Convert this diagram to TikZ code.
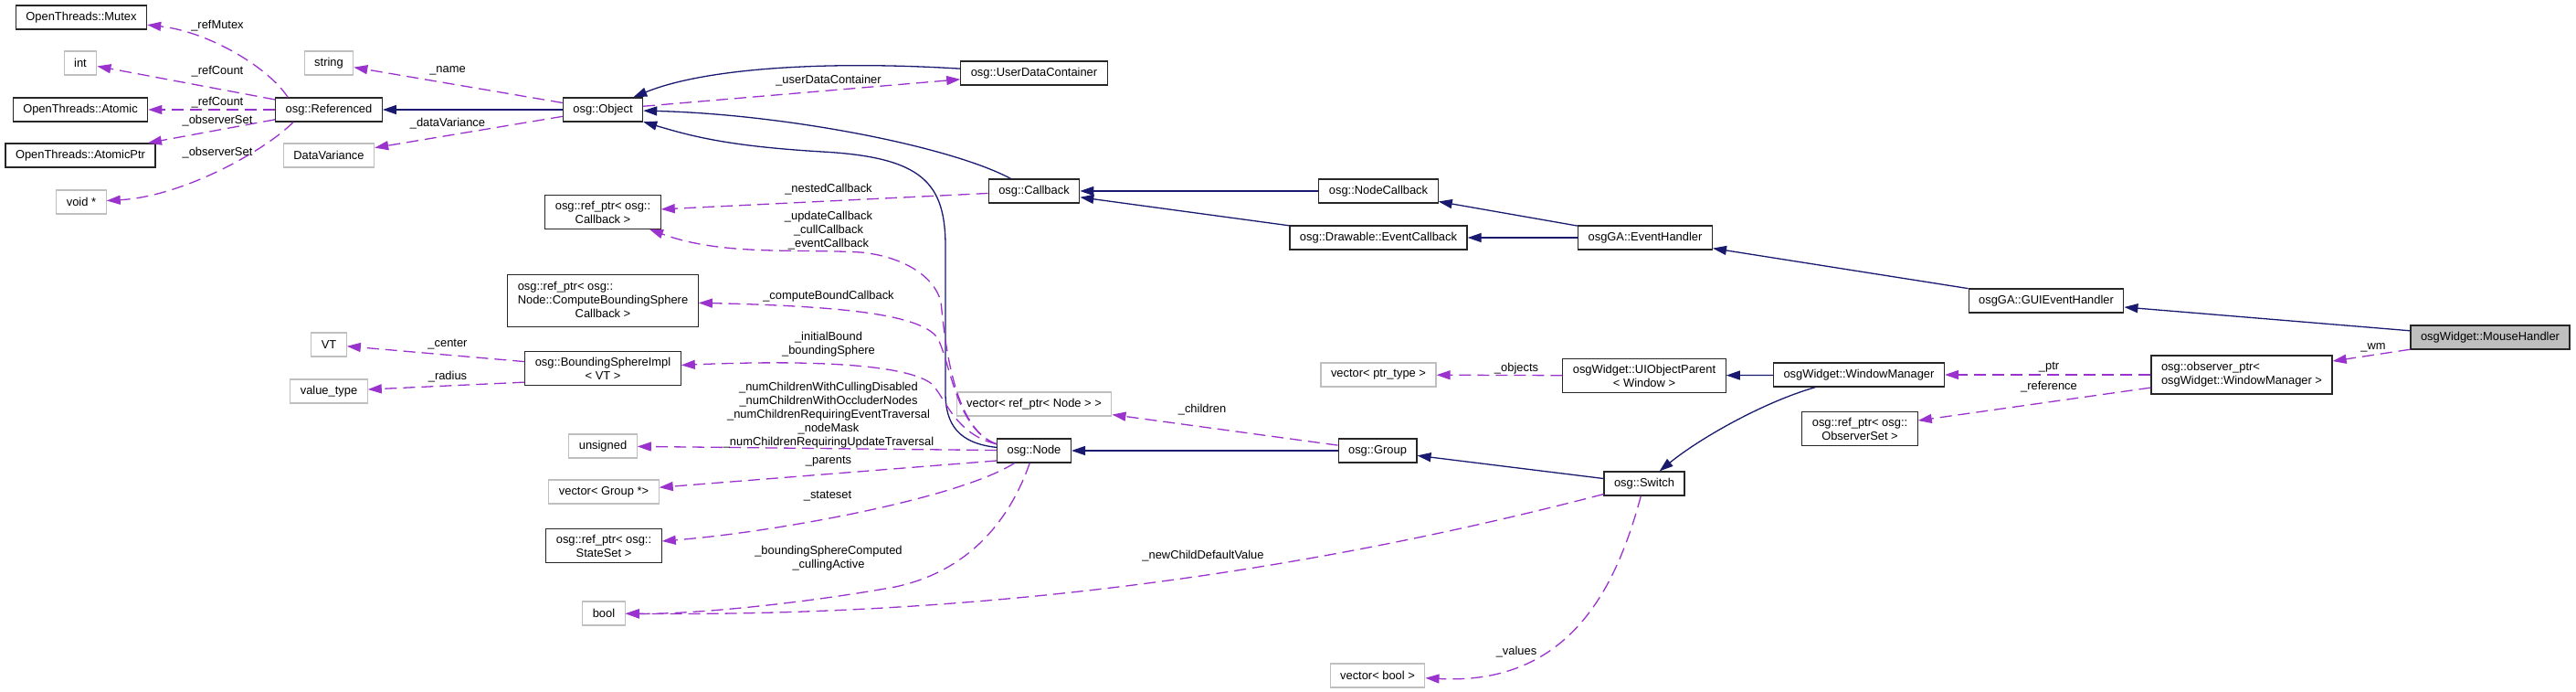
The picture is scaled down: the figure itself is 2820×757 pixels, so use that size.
\documentclass[tikz,border=0pt]{standalone}
\usepackage{fontspec}
\setmainfont{Liberation Sans}
\usetikzlibrary{arrows.meta}
\definecolor{navy}{HTML}{191970}
\definecolor{orchid}{HTML}{9A32CD}
\definecolor{boxgray}{HTML}{BFBFBF}

\begin{document}
\begin{tikzpicture}[x=1pt,y=-1pt,
    font=\fontsize{12.9}{15}\selectfont,
    cls/.style={draw=black!85,line width=1.2pt,fill=white,inner xsep=11pt,
      inner ysep=6pt,minimum height=26pt,align=center},
    ext/.style={cls,draw=boxgray},
    focus/.style={cls,fill=boxgray},
    inherit/.style={draw=navy,line width=1.3pt,-{Triangle[length=15pt,width=10pt]}},
    member/.style={draw=orchid,line width=1.3pt,dash pattern=on 13pt off 7pt,
      -{Triangle[length=15pt,width=10pt]}},
    lbl/.style={inner sep=0pt,align=center}]
    \fill[white] (0,0) rectangle (2820,757);
    \useasboundingbox (0,0) rectangle (2820,757);

    % classes, left to right
    \node[cls] (mutex) at (89,19) {OpenThreads::Mutex};
    \node[ext] (int) at (88,69) {int};
    \node[cls] (atomic) at (88,120) {OpenThreads::Atomic};
    \node[cls] (atomicptr) at (88,170) {OpenThreads::AtomicPtr};
    \node[ext] (voidp) at (89,221) {void *};
    \node[ext] (string) at (360,69) {string};
    \node[cls] (ref) at (360,120) {osg::Referenced};
    \node[ext] (datavar) at (360,170) {DataVariance};
    \node[ext] (vt) at (360,377) {VT};
    \node[ext] (valtype) at (360,428) {value\_type};
    \node[cls] (obj) at (660,120) {osg::Object};
    \node[cls] (refcb) at (660,232) {osg::ref\_ptr< osg::\\Callback >};
    \node[cls] (cbs) at (660,329) {\begin{tabular}{@{}l@{}}osg::ref\_ptr< osg::\\
      Node::ComputeBoundingSphere\\\multicolumn{1}{@{}c@{}}{Callback >}\end{tabular}};
    \node[cls] (bsi) at (660,403) {osg::BoundingSphereImpl\\< VT >};
    \node[ext] (uns) at (660,488) {unsigned};
    \node[ext] (vecgrp) at (661,538) {vector< Group *>};
    \node[cls] (ss) at (661,597) {osg::ref\_ptr< osg::\\StateSet >};
    \node[ext] (bool) at (661,671) {bool};
    \node[cls] (udc) at (1132,80) {osg::UserDataContainer};
    \node[cls] (cb) at (1132,209) {osg::Callback};
    \node[ext] (vecnode) at (1132,442) {vector< ref\_ptr< Node > >};
    \node[cls] (node) at (1132,493) {osg::Node};
    \node[cls] (ncb) at (1509,209) {osg::NodeCallback};
    \node[cls] (ecb) at (1509,260) {osg::Drawable::EventCallback};
    \node[ext] (vecptr) at (1509,410) {vector< ptr\_type >};
    \node[cls] (grp) at (1508,493) {osg::Group};
    \node[ext] (vecbool) at (1508,739) {vector< bool >};
    \node[cls] (eh) at (1801,260) {osgGA::EventHandler};
    \node[cls] (uiop) at (1800,411) {osgWidget::UIObjectParent\\< Window >};
    \node[cls] (sw) at (1800,529) {osg::Switch};
    \node[cls] (wm) at (2035,410) {osgWidget::WindowManager};
    \node[cls] (obsset) at (2036,469) {osg::ref\_ptr< osg::\\ObserverSet >};
    \node[cls] (gui) at (2240,329) {osgGA::GUIEventHandler};
    \node[cls] (obsptr) at (2454,410) {\begin{tabular}{@{}l@{}}osg::observer\_ptr<\\
      \multicolumn{1}{@{}c@{}}{osgWidget::WindowManager >}\end{tabular}};
    \node[focus] (mouse) at (2726,369) {osgWidget::MouseHandler};

    % inheritance
    \draw[inherit] (obj) -- (ref);
    \draw[inherit] (udc) .. controls (900,66) and (770,75) .. (obj);
    \draw[inherit] (cb) .. controls (1040,160) and (860,125) .. (obj);
    \draw[inherit] (node.175) .. controls (1050,485) and (1035,465) .. (1035,430)
      -- (1035,270) .. controls (1035,200) and (1010,172) .. (900,166)
      .. controls (800,160) and (760,150) .. (obj);
    \draw[inherit] (ncb) -- (cb);
    \draw[inherit] (ecb) -- (cb);
    \draw[inherit] (eh) -- (ncb);
    \draw[inherit] (eh) -- (ecb);
    \draw[inherit] (gui) -- (eh);
    \draw[inherit] (mouse) -- (gui);
    \draw[inherit] (wm) -- (uiop);
    \draw[inherit] (wm) .. controls (1930,440) and (1860,480) .. (sw);
    \draw[inherit] (sw) -- (grp);
    \draw[inherit] (grp) -- (node);

    % members
    \draw[member] ([xshift=14pt]ref.north west) .. controls (295,75) and (230,35) .. (mutex);
    \draw[member] (ref) -- (int);
    \draw[member] (ref) -- (atomic);
    \draw[member] (ref) -- (atomicptr);
    \draw[member] ([xshift=20pt]ref.south west) .. controls (290,165) and (200,215) .. (voidp);
    \draw[member] (obj) -- (string);
    \draw[member] (obj) -- (datavar);
    \draw[member] (obj) -- (udc);
    \draw[member] (cb) -- (refcb);
    \draw[member] (node.170) .. controls (1045,470) and (1035,380) .. (1030,330)
      .. controls (1022,300) and (985,280) .. (942,276)
      .. controls (870,272) and (790,280) .. (refcb);
    \draw[member] (node.170) .. controls (1045,470) and (1040,390) .. (1025,368)
      .. controls (1005,345) and (930,335) .. (cbs);
    \draw[member] (node.170) .. controls (1045,475) and (1035,435) .. (1020,420)
      .. controls (995,400) and (900,393) .. (bsi);
    \draw[member] (node) -- (uns);
    \draw[member] (node.195) -- (vecgrp);
    \draw[member] (node) .. controls (1050,545) and (850,582) .. (ss);
    \draw[member] (node) .. controls (1105,570) and (1060,625) .. (980,642)
      .. controls (880,660) and (760,672) .. (bool);
    \draw[member] (sw) .. controls (1450,620) and (1100,675) .. (bool);
    \draw[member] (sw) .. controls (1770,640) and (1720,750) .. (vecbool);
    \draw[member] (grp) -- (vecnode);
    \draw[member] (uiop) -- (vecptr);
    \draw[member] (obsptr) -- (wm);
    \draw[member] (obsptr) -- (obsset);
    \draw[member] (mouse) -- (obsptr);
    \draw[member] (bsi) -- (vt);
    \draw[member] (bsi.190) -- (valtype);

    % member names
    \node[lbl] (lrefmutex) at (238,28) {\_refMutex};
    \node[lbl] (lrefcount) at (238,78) {\_refCount};
    \node[lbl] (lrefcountb) at (238,112) {\_refCount};
    \node[lbl] (lobserver) at (238,132) {\_observerSet};
    \node[lbl] (lobserverb) at (238,167) {\_observerSet};
    \node[lbl] (lname) at (490,77) {\_name};
    \node[lbl] (ldatavar) at (490,135) {\_dataVariance};
    \node[lbl] (lcenter) at (490,377) {\_center};
    \node[lbl] (lradius) at (490,412) {\_radius};
    \node[lbl] (ludc) at (907,88) {\_userDataContainer};
    \node[lbl] (lnested) at (907,207) {\_nestedCallback};
    \node[lbl] (lcallbacks) at (907,252) {\_updateCallback\\\_cullCallback\\\_eventCallback};
    \node[lbl] (lcompute) at (907,324) {\_computeBoundCallback};
    \node[lbl] (lbound) at (907,377) {\_initialBound\\\_boundingSphere};
    \node[lbl] (lnum) at (907,454) {\_numChildrenWithCullingDisabled\\\_numChildrenWithOccluderNodes\\
      \_numChildrenRequiringEventTraversal\\\_nodeMask\\\_numChildrenRequiringUpdateTraversal};
    \node[lbl] (lparents) at (907,505) {\_parents};
    \node[lbl] (lstateset) at (906,543) {\_stateset};
    \node[lbl] (lsphere) at (907,611) {\_boundingSphereComputed\\\_cullingActive};
    \node[lbl] (lchildren) at (1316,448) {\_children};
    \node[lbl] (ldefault) at (1317,608) {\_newChildDefaultValue};
    \node[lbl] (lobjects) at (1660,403) {\_objects};
    \node[lbl] (lvalues) at (1660,713) {\_values};
    \node[lbl] (lptr) at (2243,402) {\_ptr};
    \node[lbl] (lreference) at (2243,423) {\_reference};
    \node[lbl] (lwm) at (2598,380) {\_wm};
  \end{tikzpicture}
\end{document}
